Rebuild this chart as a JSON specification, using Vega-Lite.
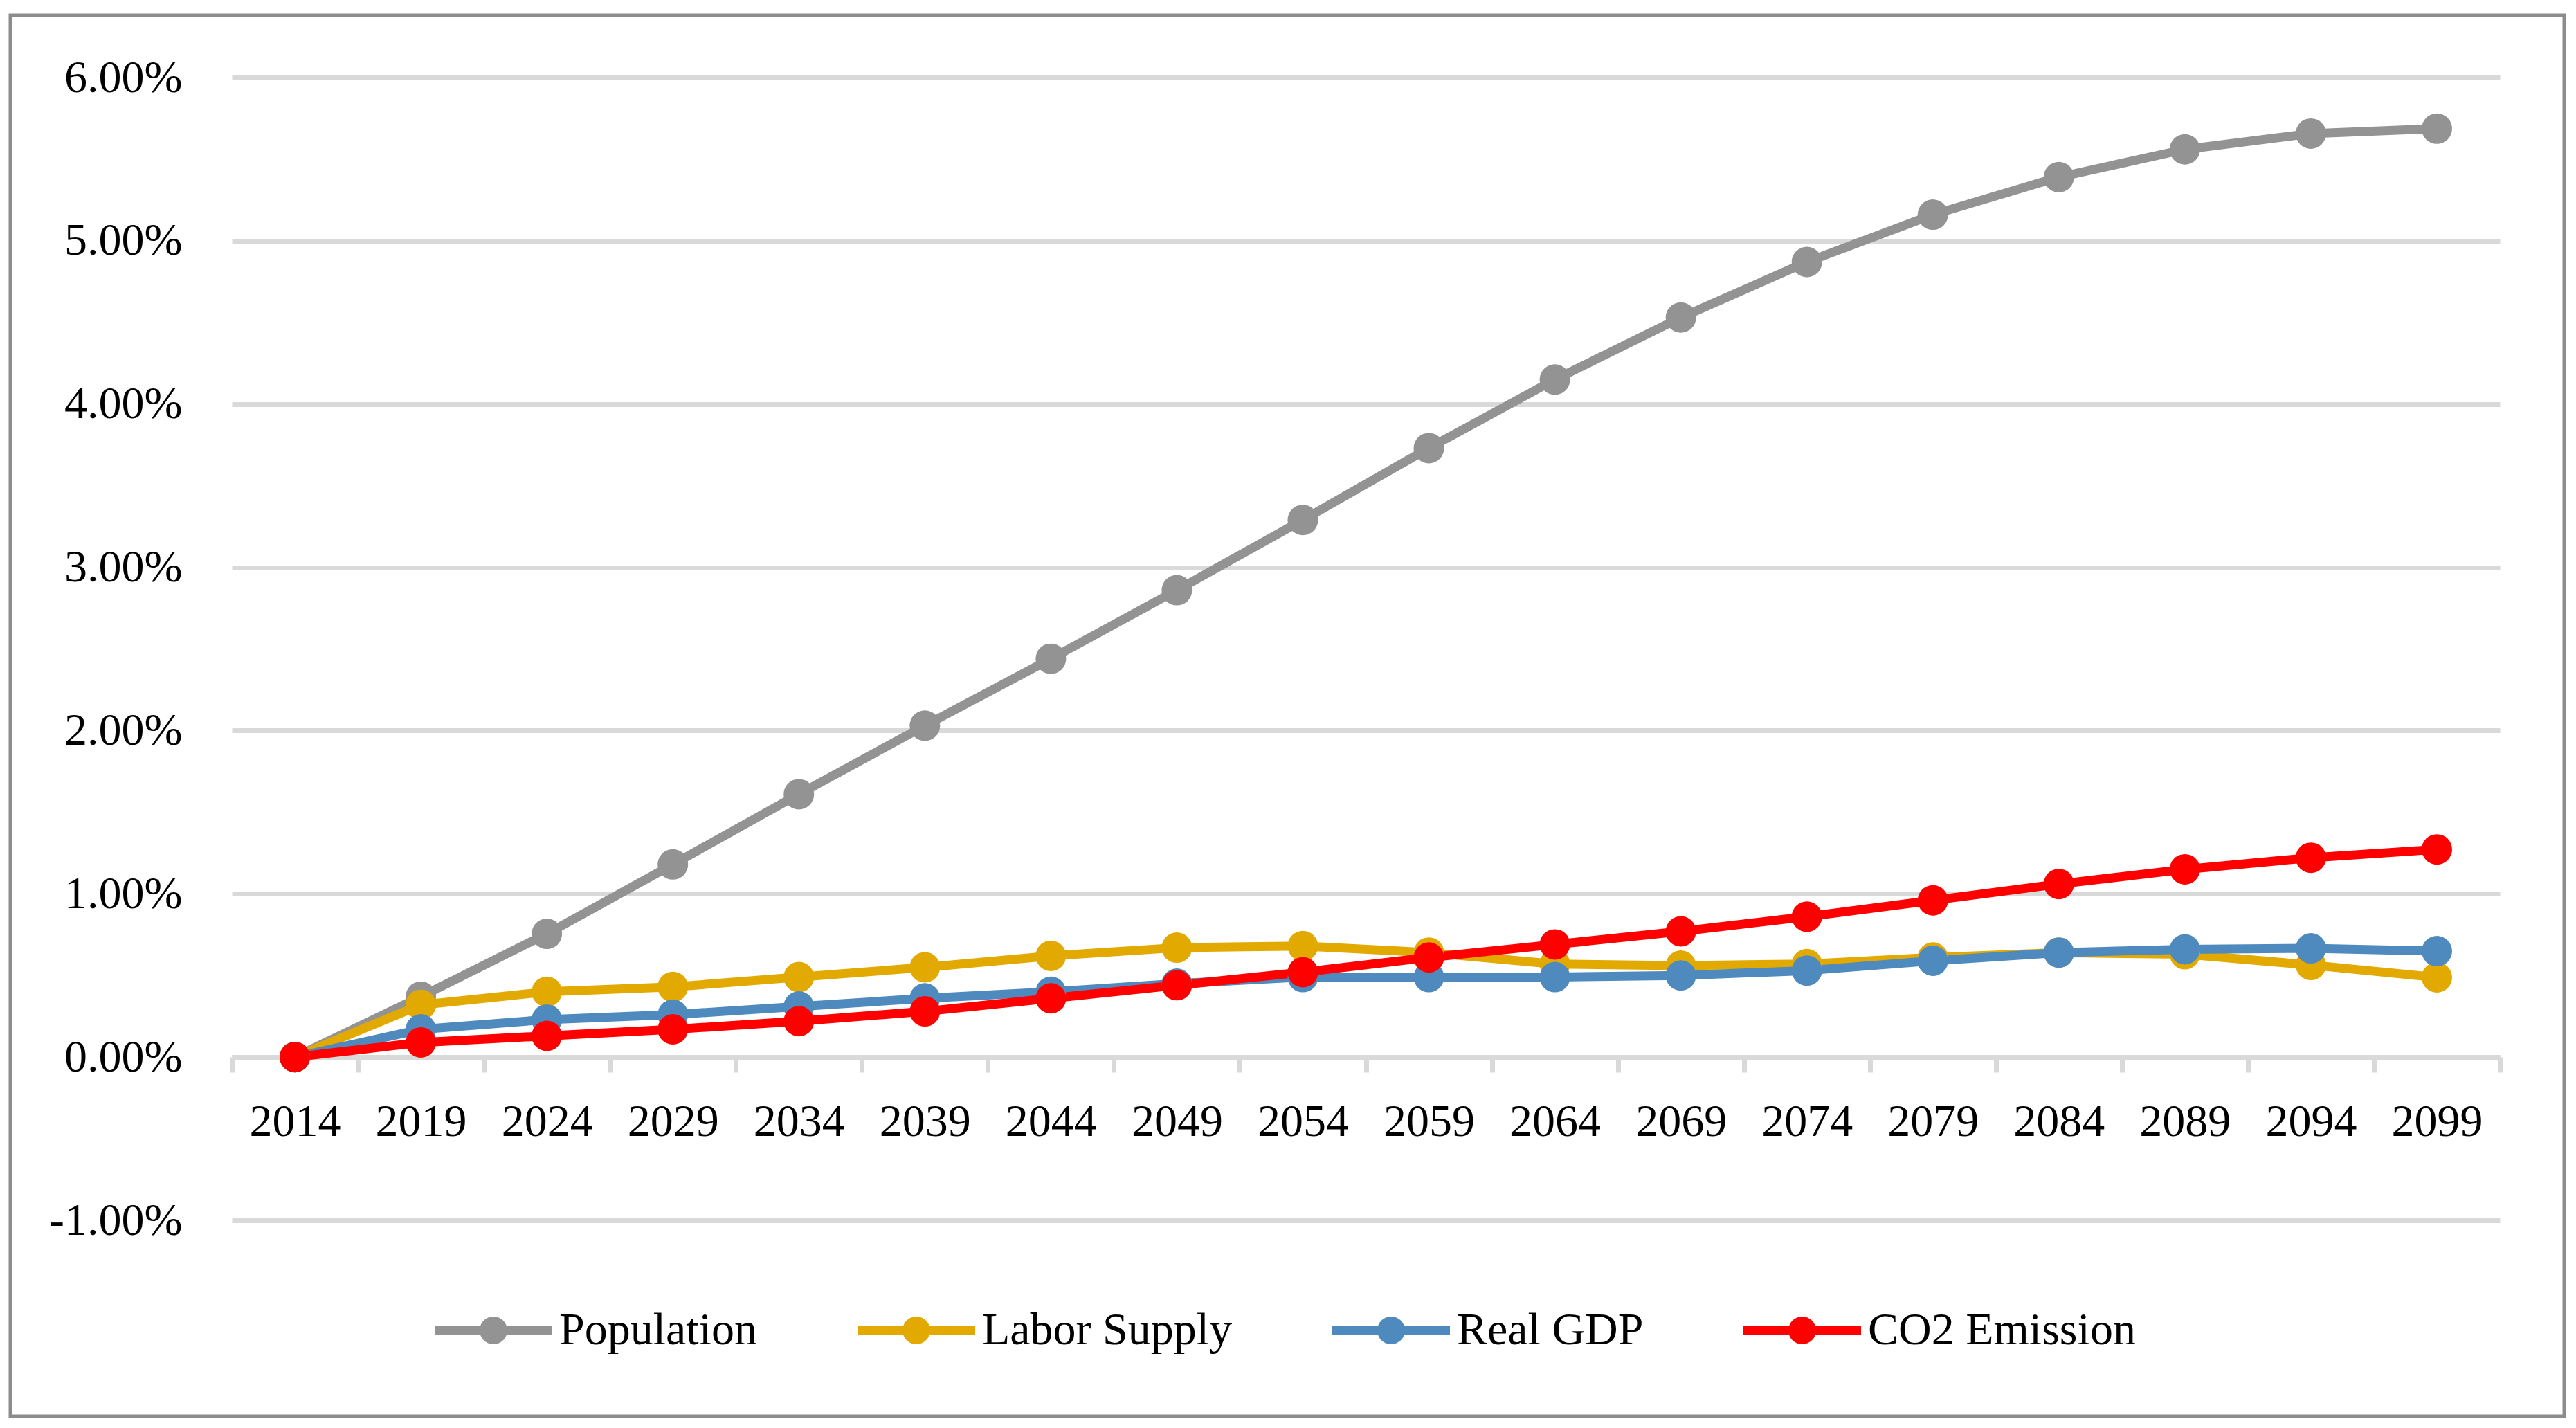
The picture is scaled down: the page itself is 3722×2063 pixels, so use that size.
{
  "$schema": "https://vega.github.io/schema/vega-lite/v6.json",
  "width": 3277,
  "height": 1651,
  "autosize": {"type": "none"},
  "padding": {"left": 335, "top": 112, "right": 110, "bottom": 300},
  "background": "white",
  "config": {"view": {"stroke": null}, "font": "Liberation Serif"},
  "data": {
    "values": [
      {"year": 2014, "series": "Population", "v": 0},
      {"year": 2019, "series": "Population", "v": 0.37},
      {"year": 2024, "series": "Population", "v": 0.755},
      {"year": 2029, "series": "Population", "v": 1.18},
      {"year": 2034, "series": "Population", "v": 1.61},
      {"year": 2039, "series": "Population", "v": 2.03},
      {"year": 2044, "series": "Population", "v": 2.44},
      {"year": 2049, "series": "Population", "v": 2.86},
      {"year": 2054, "series": "Population", "v": 3.29},
      {"year": 2059, "series": "Population", "v": 3.73},
      {"year": 2064, "series": "Population", "v": 4.15},
      {"year": 2069, "series": "Population", "v": 4.53},
      {"year": 2074, "series": "Population", "v": 4.87},
      {"year": 2079, "series": "Population", "v": 5.16},
      {"year": 2084, "series": "Population", "v": 5.39},
      {"year": 2089, "series": "Population", "v": 5.56},
      {"year": 2094, "series": "Population", "v": 5.657},
      {"year": 2099, "series": "Population", "v": 5.687},
      {"year": 2014, "series": "Labor Supply", "v": 0},
      {"year": 2019, "series": "Labor Supply", "v": 0.32},
      {"year": 2024, "series": "Labor Supply", "v": 0.40},
      {"year": 2029, "series": "Labor Supply", "v": 0.43},
      {"year": 2034, "series": "Labor Supply", "v": 0.49},
      {"year": 2039, "series": "Labor Supply", "v": 0.55},
      {"year": 2044, "series": "Labor Supply", "v": 0.62},
      {"year": 2049, "series": "Labor Supply", "v": 0.67},
      {"year": 2054, "series": "Labor Supply", "v": 0.68},
      {"year": 2059, "series": "Labor Supply", "v": 0.64},
      {"year": 2064, "series": "Labor Supply", "v": 0.57},
      {"year": 2069, "series": "Labor Supply", "v": 0.56},
      {"year": 2074, "series": "Labor Supply", "v": 0.57},
      {"year": 2079, "series": "Labor Supply", "v": 0.61},
      {"year": 2084, "series": "Labor Supply", "v": 0.64},
      {"year": 2089, "series": "Labor Supply", "v": 0.63},
      {"year": 2094, "series": "Labor Supply", "v": 0.564},
      {"year": 2099, "series": "Labor Supply", "v": 0.488},
      {"year": 2014, "series": "Real GDP", "v": 0},
      {"year": 2019, "series": "Real GDP", "v": 0.17},
      {"year": 2024, "series": "Real GDP", "v": 0.23},
      {"year": 2029, "series": "Real GDP", "v": 0.26},
      {"year": 2034, "series": "Real GDP", "v": 0.31},
      {"year": 2039, "series": "Real GDP", "v": 0.36},
      {"year": 2044, "series": "Real GDP", "v": 0.40},
      {"year": 2049, "series": "Real GDP", "v": 0.45},
      {"year": 2054, "series": "Real GDP", "v": 0.49},
      {"year": 2059, "series": "Real GDP", "v": 0.49},
      {"year": 2064, "series": "Real GDP", "v": 0.49},
      {"year": 2069, "series": "Real GDP", "v": 0.50},
      {"year": 2074, "series": "Real GDP", "v": 0.53},
      {"year": 2079, "series": "Real GDP", "v": 0.59},
      {"year": 2084, "series": "Real GDP", "v": 0.64},
      {"year": 2089, "series": "Real GDP", "v": 0.66},
      {"year": 2094, "series": "Real GDP", "v": 0.666},
      {"year": 2099, "series": "Real GDP", "v": 0.649},
      {"year": 2014, "series": "CO2 Emission", "v": 0},
      {"year": 2019, "series": "CO2 Emission", "v": 0.09},
      {"year": 2024, "series": "CO2 Emission", "v": 0.13},
      {"year": 2029, "series": "CO2 Emission", "v": 0.17},
      {"year": 2034, "series": "CO2 Emission", "v": 0.22},
      {"year": 2039, "series": "CO2 Emission", "v": 0.28},
      {"year": 2044, "series": "CO2 Emission", "v": 0.36},
      {"year": 2049, "series": "CO2 Emission", "v": 0.44},
      {"year": 2054, "series": "CO2 Emission", "v": 0.52},
      {"year": 2059, "series": "CO2 Emission", "v": 0.61},
      {"year": 2064, "series": "CO2 Emission", "v": 0.69},
      {"year": 2069, "series": "CO2 Emission", "v": 0.77},
      {"year": 2074, "series": "CO2 Emission", "v": 0.86},
      {"year": 2079, "series": "CO2 Emission", "v": 0.96},
      {"year": 2084, "series": "CO2 Emission", "v": 1.06},
      {"year": 2089, "series": "CO2 Emission", "v": 1.15},
      {"year": 2094, "series": "CO2 Emission", "v": 1.221},
      {"year": 2099, "series": "CO2 Emission", "v": 1.272}
    ]
  },
  "layer": [
    {
      "data": {"values": [{}]},
      "mark": {"type": "rect", "filled": false, "stroke": "#8C8C8C", "strokeWidth": 5},
      "encoding": {
        "x": {"value": -320},
        "x2": {"value": 3370},
        "y": {"value": -90},
        "y2": {"value": 1934}
      }
    },
    {
      "mark": {"type": "line", "strokeWidth": 13, "strokeJoin": "round", "strokeCap": "round"},
      "encoding": {
        "x": {
          "field": "year",
          "type": "ordinal",
          "scale": {"type": "band", "paddingInner": 0, "paddingOuter": 0},
          "axis": {
            "title": null,
            "orient": "bottom",
            "offset": -236,
            "domainColor": "#D9D9D9",
            "domainWidth": 7,
            "tickColor": "#D9D9D9",
            "tickWidth": 7,
            "tickSize": 22,
            "tickBand": "extent",
            "labelFont": "Liberation Serif",
            "labelFontSize": 66,
            "labelColor": "black",
            "labelPadding": 39,
            "labelAngle": 0,
            "grid": false
          }
        },
        "y": {
          "field": "v",
          "type": "quantitative",
          "scale": {"domain": [-1, 6], "nice": false, "zero": false},
          "axis": {
            "title": null,
            "values": [-1, 0, 1, 2, 3, 4, 5, 6],
            "domain": false,
            "ticks": false,
            "tickSize": 0,
            "grid": true,
            "gridColor": "#D9D9D9",
            "gridWidth": 7,
            "labelFont": "Liberation Serif",
            "labelFontSize": 66,
            "labelColor": "black",
            "labelPadding": 72,
            "labelLimit": 1000,
            "labelExpr": "replace(format(datum.value, '.2f'), '\u2212', '-') + '%'"
          }
        },
        "color": {
          "field": "series",
          "type": "nominal",
          "scale": {
            "domain": ["Population", "Labor Supply", "Real GDP", "CO2 Emission"],
            "range": ["#939393", "#E2AA00", "#4F8ABE", "#FF0000"]
          },
          "legend": {
            "title": null,
            "orient": "none",
            "legendX": 293,
            "legendY": 1725,
            "direction": "horizontal",
            "columns": 4,
            "columnPadding": 144,
            "symbolType": "M-1,-0.077 L1,-0.077 L1,0.077 L-1,0.077 Z M-0.235,0 A0.235,0.235 0 1,1 0.235,0 A0.235,0.235 0 1,1 -0.235,0 Z",
            "symbolSize": 28900,
            "symbolStrokeWidth": 0,
            "labelFont": "Liberation Serif",
            "labelFontSize": 66,
            "labelColor": "black",
            "labelOffset": 10,
            "labelLimit": 2000,
            "encode": {
              "symbols": {
                "update": {
                  "fill": {"scale": "color", "field": "value"},
                  "stroke": {"value": "transparent"},
                  "opacity": {"value": 1}
                }
              }
            }
          }
        }
      }
    },
    {
      "mark": {"type": "point", "shape": "circle", "filled": true, "size": 1936, "opacity": 1, "strokeWidth": 0},
      "encoding": {
        "x": {"field": "year", "type": "ordinal"},
        "y": {"field": "v", "type": "quantitative"},
        "color": {"field": "series", "type": "nominal"}
      }
    }
  ]
}
